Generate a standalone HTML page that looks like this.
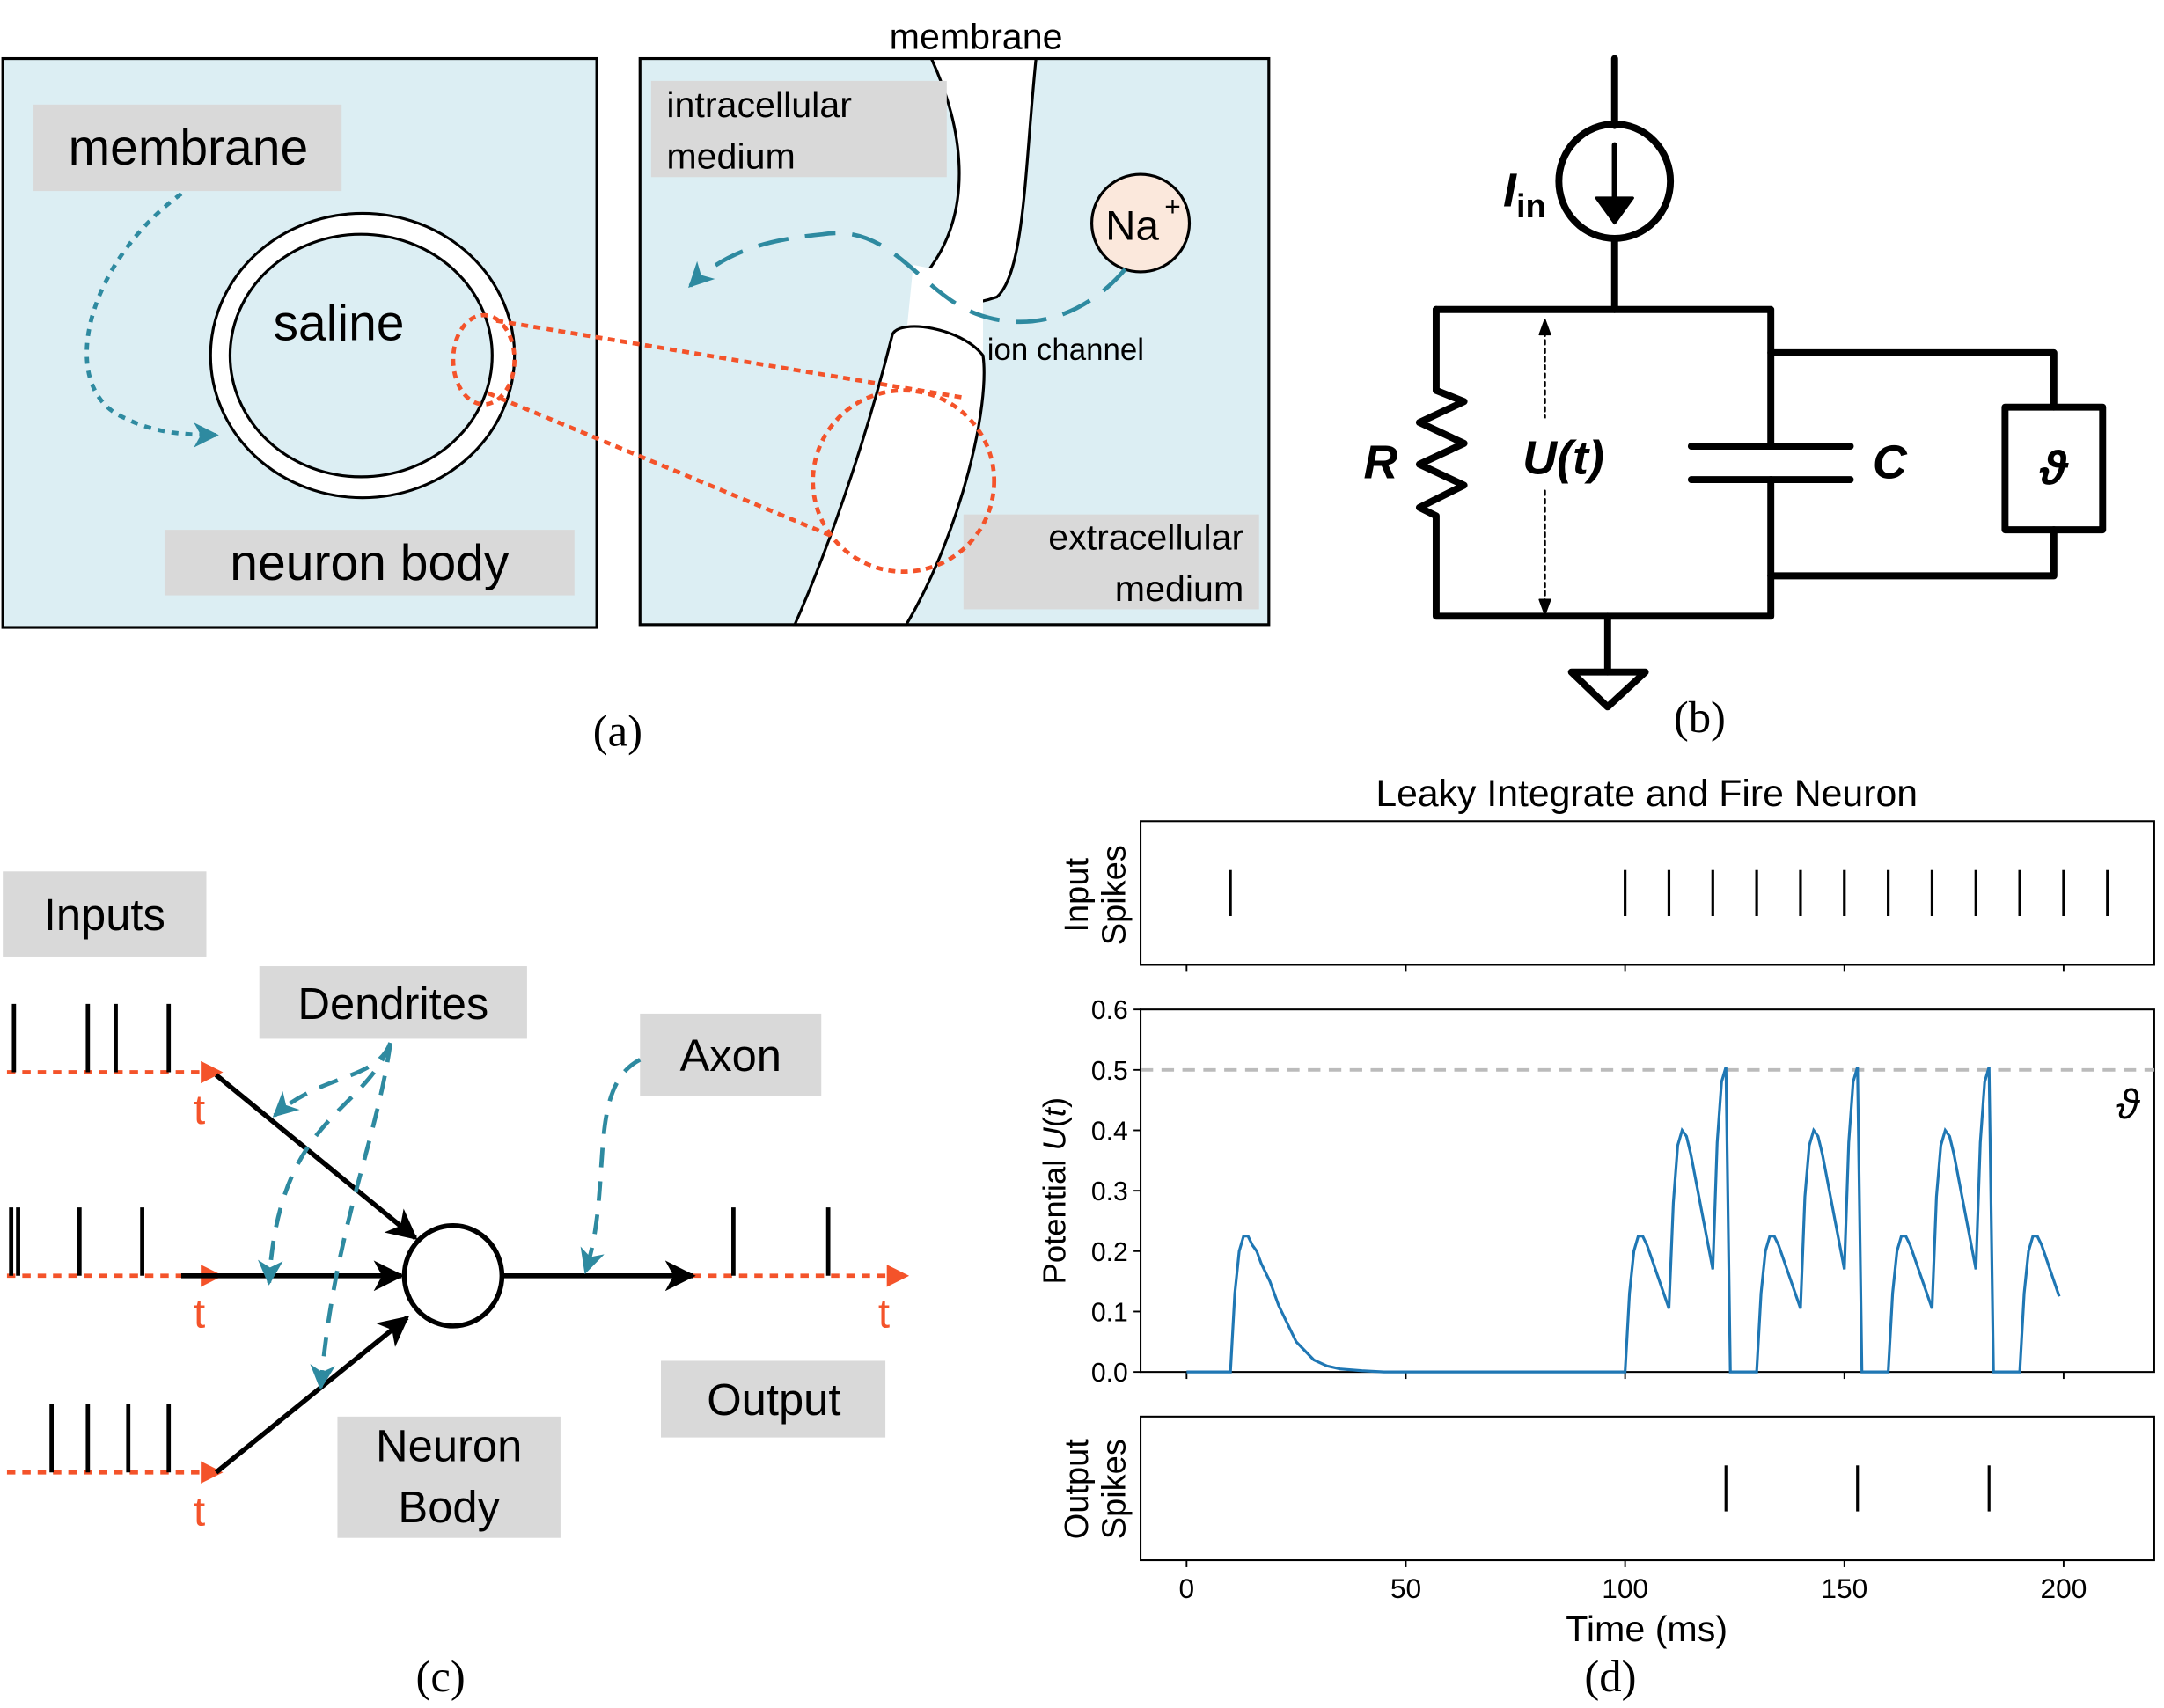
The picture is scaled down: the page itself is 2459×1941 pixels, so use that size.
<!DOCTYPE html>
<html><head><meta charset="utf-8"><style>
html,body{margin:0;padding:0;background:#fff}
svg{display:block}
text{font-family:"Liberation Sans","DejaVu Sans",sans-serif}
.cap{font-family:"Liberation Serif",serif;font-size:32px}
</style></head><body>
<svg id="fig" width="2459" height="1941" viewBox="0 0 1552 1225" preserveAspectRatio="none" xmlns="http://www.w3.org/2000/svg">
<defs>
<marker id="blkHead" markerWidth="22" markerHeight="22" refX="20" refY="11" orient="auto" markerUnits="userSpaceOnUse"><path d="M0,0 L22,11 L0,22 L6,11z" fill="#000"/></marker>
<marker id="redHead" markerWidth="16" markerHeight="16" refX="14" refY="8" orient="auto" markerUnits="userSpaceOnUse"><path d="M0,0 L16,8 L0,16z" fill="#f4532a"/></marker>
<marker id="tHead" markerWidth="18" markerHeight="18" refX="16" refY="9" orient="auto" markerUnits="userSpaceOnUse"><path d="M0,0 L18,9 L0,18 L5,9z" fill="#2e8aa0"/></marker>
</defs>

<!-- Panel A -->
<g>
<rect x="2" y="42" width="426" height="408" fill="#dceef3" stroke="#000" stroke-width="2"/>
<ellipse cx="260" cy="255" rx="109" ry="102" fill="#fff" stroke="#000" stroke-width="2"/>
<ellipse cx="259" cy="255" rx="94" ry="87" fill="#dceef3" stroke="#000" stroke-width="2"/>
<rect x="24" y="75" width="221" height="62" fill="#d9d9d9"/>
<text x="135" y="118" font-size="36" text-anchor="middle">membrane</text>
<text x="243" y="244" font-size="36" text-anchor="middle">saline</text>
<rect x="118" y="380" width="294" height="47" fill="#d9d9d9"/>
<text x="265" y="416" font-size="36" text-anchor="middle">neuron body</text>
<path d="M130,139 C60,190 40,280 90,300 C110,310 130,312 155,312" fill="none" stroke="#2e8aa0" stroke-width="3" stroke-dasharray="5,5" marker-end="url(#tHead)"/>

<rect x="459" y="42" width="451" height="406" fill="#dceef3" stroke="#000" stroke-width="2"/>
<path d="M668,42 C690,90 700,150 665,195 C650,215 680,225 715,213 C735,195 735,120 743,42 Z" fill="#fff" stroke="#000" stroke-width="2"/>
<path d="M655,190 L650,240 L705,255 L705,200Z" fill="#fff"/>
<path d="M640,240 C645,228 690,235 705,255 C710,290 690,380 650,448 L570,448 C600,380 625,300 640,240 Z" fill="#fff" stroke="#000" stroke-width="2"/>
<rect x="467" y="58" width="212" height="69" fill="#d9d9d9"/>
<text x="478" y="84" font-size="26">intracellular</text>
<text x="478" y="121" font-size="26">medium</text>
<rect x="691" y="369" width="212" height="68" fill="#d9d9d9"/>
<text x="892" y="394" font-size="26" text-anchor="end">extracellular</text>
<text x="892" y="431" font-size="26" text-anchor="end">medium</text>
<text x="700" y="35" font-size="26" text-anchor="middle">membrane</text>
<text x="708" y="258" font-size="22">ion channel</text>
<circle cx="818" cy="160" r="35" fill="#fbe8dc" stroke="#000" stroke-width="2"/>
<text x="812" y="172" font-size="30" text-anchor="middle">Na</text>
<text x="841" y="155" font-size="20" text-anchor="middle">+</text>
<path d="M807,193 C780,225 740,240 700,225 C660,210 640,160 590,168 C550,172 520,180 495,205" fill="none" stroke="#2e8aa0" stroke-width="3" stroke-dasharray="22,12" marker-end="url(#tHead)"/>
<ellipse cx="347" cy="258" rx="22" ry="32" fill="none" stroke="#f4532a" stroke-width="3" stroke-dasharray="5,4"/>
<ellipse cx="648" cy="345" rx="65" ry="65" fill="none" stroke="#f4532a" stroke-width="3" stroke-dasharray="5,4"/>
<line x1="356" y1="230" x2="690" y2="285" stroke="#f4532a" stroke-width="3" stroke-dasharray="5,4"/>
<line x1="350" y1="282" x2="598" y2="385" stroke="#f4532a" stroke-width="3" stroke-dasharray="5,4"/>
<text x="443" y="535" class="cap" text-anchor="middle">(a)</text>
</g>

<!-- Panel B -->
<g stroke="#000" stroke-width="5" fill="none" stroke-linejoin="round" stroke-linecap="round">
<line x1="1158" y1="42" x2="1158" y2="90"/>
<ellipse cx="1158" cy="130" rx="40" ry="41"/>
<line x1="1158" y1="104" x2="1158" y2="145" stroke-width="4"/>
<path d="M1145,142 L1158,160 L1171,142 Z" fill="#000" stroke-width="2"/>
<line x1="1158" y1="171" x2="1158" y2="222"/>
<path d="M1030,222 L1270,222 L1270,320"/>
<path d="M1270,344 L1270,442 L1030,442 L1030,370 L1018,364 L1050,348 L1018,333 L1050,318 L1018,303 L1050,288 L1030,280 L1030,222"/>
<line x1="1213" y1="320" x2="1327" y2="320"/>
<line x1="1213" y1="344" x2="1327" y2="344"/>
<path d="M1270,253 L1473,253 L1473,292"/>
<rect x="1438" y="292" width="70" height="88"/>
<path d="M1473,380 L1473,413 L1270,413"/>
<line x1="1153" y1="442" x2="1153" y2="482"/>
<path d="M1127,482 L1180,482 L1153,507 Z"/>
<line x1="1108" y1="232" x2="1108" y2="434" stroke-width="1.5" stroke-dasharray="3,3"/>
<path d="M1104,240 L1108,229 L1112,240Z M1104,430 L1108,441 L1112,430Z" fill="#000" stroke-width="1"/>
</g>
<rect x="1098" y="300" width="60" height="50" fill="#fff"/>
<g font-weight="bold" font-style="italic" font-size="34">
<text x="1078" y="148">I<tspan font-size="24" font-style="normal" dy="8">in</tspan></text>
<text x="978" y="343">R</text>
<text x="1092" y="340">U(t)</text>
<text x="1343" y="343">C</text>
<text x="1473" y="347" text-anchor="middle">ϑ</text>
</g>
<text x="1219" y="525" class="cap" text-anchor="middle">(b)</text>

<!-- Panel C -->
<g>
<rect x="2" y="625" width="146" height="61" fill="#d9d9d9"/>
<text x="75" y="667" font-size="32" text-anchor="middle">Inputs</text>
<rect x="186" y="693" width="192" height="52" fill="#d9d9d9"/>
<text x="282" y="731" font-size="32" text-anchor="middle">Dendrites</text>
<rect x="459" y="727" width="130" height="59" fill="#d9d9d9"/>
<text x="524" y="768" font-size="32" text-anchor="middle">Axon</text>
<rect x="242" y="1016" width="160" height="87" fill="#d9d9d9"/>
<text x="322" y="1048" font-size="32" text-anchor="middle">Neuron</text>
<text x="322" y="1092" font-size="32" text-anchor="middle">Body</text>
<rect x="474" y="976" width="161" height="55" fill="#d9d9d9"/>
<text x="555" y="1015" font-size="32" text-anchor="middle">Output</text>
<g stroke="#f4532a" stroke-width="3" stroke-dasharray="6,5">
<line x1="5" y1="769" x2="158" y2="769" marker-end="url(#redHead)"/>
<line x1="5" y1="915" x2="158" y2="915" marker-end="url(#redHead)"/>
<line x1="5" y1="1056" x2="158" y2="1056" marker-end="url(#redHead)"/>
<line x1="497" y1="915" x2="650" y2="915" marker-end="url(#redHead)"/>
</g>
<g stroke="#000" stroke-width="3">
<path d="M10,720V769M63,720V769M83,720V769M121,720V769"/>
<path d="M8,866V915M13,866V915M57,866V915M102,866V915"/>
<path d="M37,1007V1056M63,1007V1056M92,1007V1056M121,1007V1056"/>
<path d="M526,866V915M594,866V915"/>
</g>
<g fill="#f4532a" font-size="30">
<text x="143" y="806" text-anchor="middle">t</text>
<text x="143" y="952" text-anchor="middle">t</text>
<text x="143" y="1094" text-anchor="middle">t</text>
<text x="634" y="952" text-anchor="middle">t</text>
</g>
<g stroke="#000" stroke-width="3.5" fill="none">
<line x1="155" y1="771" x2="298" y2="888" marker-end="url(#blkHead)"/>
<line x1="130" y1="915" x2="288" y2="915" marker-end="url(#blkHead)"/>
<line x1="155" y1="1056" x2="292" y2="945" marker-end="url(#blkHead)"/>
<line x1="361" y1="915" x2="497" y2="915" marker-end="url(#blkHead)"/>
</g>
<ellipse cx="325" cy="915" rx="35" ry="36" fill="#fff" stroke="#000" stroke-width="3.5"/>
<g stroke="#2e8aa0" stroke-width="3" fill="none" stroke-dasharray="14,10">
<path d="M280,748 C270,775 230,770 197,800" marker-end="url(#tHead)"/>
<path d="M280,748 C260,800 200,800 193,920" marker-end="url(#tHead)"/>
<path d="M280,748 C270,820 240,880 230,995" marker-end="url(#tHead)"/>
<path d="M459,760 C420,780 440,850 420,912" marker-end="url(#tHead)"/>
</g>
<text x="316" y="1213" class="cap" text-anchor="middle">(c)</text>
</g>

<!-- Panel D chart -->
<g id="chart"></g>
<text x="1155" y="1213" class="cap" text-anchor="middle">(d)</text>
</svg>
<script>
const inputSpikes = [10,100,110,120,130,140,150,160,170,180,190,200,210];
const outputSpikes = [123,153,183];
const potT = [0,10,11,12,13,14,15,16,17,19,21,23,25,27,29,32,35,40,45,100,101,102,103,104,105,110,111,112,113,114,115,120,121,122,123,124,130,131,132,133,134,135,140,141,142,143,144,145,150,151,152,153,154,160,161,162,163,164,165,170,171,172,173,174,175,180,181,182,183,184,190,191,192,193,194,195,199];
const potV = [0,0,0.13,0.2,0.225,0.225,0.21,0.2,0.18,0.15,0.11,0.08,0.05,0.035,0.02,0.01,0.005,0.002,0,0,0.13,0.2,0.225,0.225,0.21,0.105,0.28,0.375,0.4,0.39,0.36,0.17,0.38,0.48,0.505,0,0,0.13,0.2,0.225,0.225,0.21,0.105,0.29,0.375,0.4,0.39,0.36,0.17,0.38,0.48,0.505,0,0,0.13,0.2,0.225,0.225,0.21,0.105,0.29,0.375,0.4,0.39,0.36,0.17,0.38,0.48,0.505,0,0,0.13,0.2,0.225,0.225,0.21,0.125];
const threshold = 0.5;
const xTicks = [0,50,100,150,200];
const yTicks = [0,0.1,0.2,0.3,0.4,0.5,0.6];

const NS='http://www.w3.org/2000/svg';
const g=document.getElementById('chart');
const X=t=>851+(1480-851)*t/200;
const Y=v=>984-(984-724)*v/0.6;
function mk(tag,attrs,parent){const e=document.createElementNS(NS,tag);for(const k in attrs)e.setAttribute(k,attrs[k]);(parent||g).appendChild(e);return e;}
const L=818,R=1545;
const title=mk('text',{x:1181,y:578,'font-size':27,'text-anchor':'middle','font-family':'DejaVu Sans, sans-serif'});


title.textContent='Leaky Integrate and Fire Neuron';
const panels=[[589,692,'input-spikes-panel'],[724,984,'potential-panel'],[1016,1119,'output-spikes-panel']];
panels.forEach(p=>{const r=mk('rect',{x:L,y:p[0],width:R-L,height:p[1]-p[0],fill:'none',stroke:'#000','stroke-width':1.3});


xTicks.forEach(t=>{const tk=mk('line',{x1:X(t),x2:X(t),y1:p[1],y2:p[1]+5,stroke:'#000','stroke-width':1.2});

});});
xTicks.forEach(t=>{const tx=mk('text',{x:X(t),y:1146,'font-size':20,'text-anchor':'middle','font-family':'DejaVu Sans, sans-serif'});


tx.textContent=t;});
yTicks.forEach(v=>{const tk=mk('line',{x1:L-5,x2:L,y1:Y(v),y2:Y(v),stroke:'#000','stroke-width':1.2});


const tx=mk('text',{x:L-9,y:Y(v)+7,'font-size':19,'text-anchor':'end','font-family':'DejaVu Sans, sans-serif'});


tx.textContent=v.toFixed(1);});
const xl=mk('text',{x:1181,y:1177,'font-size':26,'text-anchor':'middle','font-family':'DejaVu Sans, sans-serif'});


xl.textContent='Time (ms)';
function vlab(lines,cy,name){const t=mk('text',{transform:`translate(780,${cy}) rotate(-90)`,'font-size':24,'text-anchor':'middle','font-family':'DejaVu Sans, sans-serif'});


lines.forEach((s,i)=>{const ts=mk('tspan',{x:0,dy:i?27:0},t);ts.textContent=s;});return t;}
vlab(['Input','Spikes'],642,'input-spikes-label');
vlab(['Output','Spikes'],1068,'output-spikes-label');
const yl=mk('text',{transform:'translate(764,854) rotate(-90)','font-size':23,'text-anchor':'middle','font-family':'DejaVu Sans, sans-serif'});


yl.innerHTML='Potential <tspan font-style="italic">U</tspan>(<tspan font-style="italic">t</tspan>)';
const th=mk('line',{x1:L,x2:R,y1:Y(threshold),y2:Y(threshold),stroke:'#bbb','stroke-width':2.5,'stroke-dasharray':'9,6'});


const tl=mk('text',{x:1526,y:802,'font-size':30,'text-anchor':'middle','font-style':'italic','font-family':'DejaVu Serif, serif'});


tl.textContent='ϑ';
inputSpikes.forEach(t=>{const s=mk('line',{x1:X(t),x2:X(t),y1:624,y2:657,stroke:'#000','stroke-width':2});

});
outputSpikes.forEach(t=>{const s=mk('line',{x1:X(t),x2:X(t),y1:1051,y2:1084,stroke:'#000','stroke-width':2});

});
const pl=mk('polyline',{points:potT.map((t,i)=>X(t)+','+Y(potV[i])).join(' '),fill:'none',stroke:'#1f77b4','stroke-width':2});


</script>
</body></html>
